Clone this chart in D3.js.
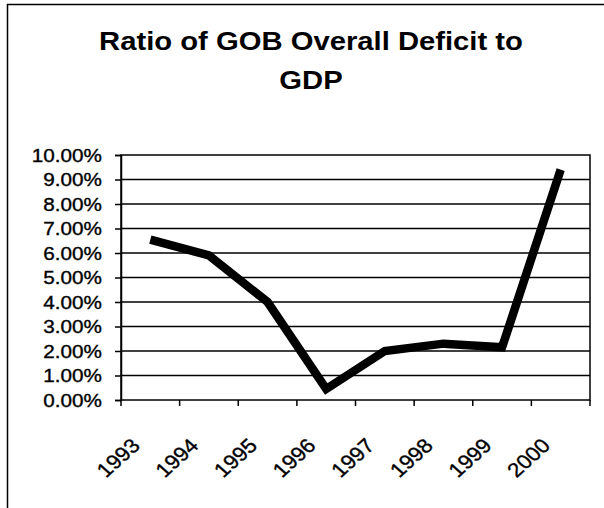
<!DOCTYPE html>
<html><head><meta charset="utf-8">
<script src="https://cdn.jsdelivr.net/npm/d3@7/dist/d3.min.js"></script>
<style>
html,body{margin:0;padding:0;background:#fff;}
svg{display:block;font-family:"Liberation Sans",Arial,sans-serif;}
</style></head>
<body>
<svg id="chart" width="604" height="508"></svg>
<script>
const titleLines = ["Ratio of GOB Overall Deficit to", "GDP"];
const years = ["1993","1994","1995","1996","1997","1998","1999","2000"];
const deficitRatio = [0.0655, 0.059, 0.040, 0.0045, 0.020, 0.023, 0.0215, 0.094];
const yTicks = [0,0.01,0.02,0.03,0.04,0.05,0.06,0.07,0.08,0.09,0.10];

const svg = d3.select("#chart");
const W = 604, H = 508;
const m = {left:121, right:590, top:155, bottom:400};
const sx = 1.15; // horizontal stretch of the scanned text

// outer frame (top and left visible)
svg.append("line").attr("x1",7).attr("x2",604).attr("y1",4.5).attr("y2",4.5)
  .attr("stroke","#000").attr("stroke-width",1.5);
svg.append("line").attr("x1",7.5).attr("x2",7.5).attr("y1",4).attr("y2",H)
  .attr("stroke","#000").attr("stroke-width",1.5);

// title
titleLines.forEach((t,i)=>{
  svg.append("text")
    .attr("transform",`translate(311,${50+i*39}) scale(1.17,1)`)
    .attr("text-anchor","middle")
    .attr("font-size",25).attr("font-weight","bold")
    .text(t);
});

const x = d3.scaleBand().domain(years).range([m.left,m.right]).padding(0);
const y = d3.scaleLinear().domain([0,0.10]).range([m.bottom,m.top]);

// gridlines
svg.append("g").selectAll("line").data(yTicks.slice(1,-1)).join("line")
  .attr("x1",m.left).attr("x2",m.right)
  .attr("y1",d=>y(d)).attr("y2",d=>y(d))
  .attr("stroke","#000").attr("stroke-width",1.5);

// plot border
svg.append("rect").attr("x",m.left).attr("y",m.top)
  .attr("width",m.right-m.left).attr("height",m.bottom-m.top)
  .attr("fill","none").attr("stroke","#000").attr("stroke-width",1.5);

// y axis
const yAxis = d3.axisLeft(y).tickValues(yTicks).tickFormat(d3.format(".2%")).tickSize(6).tickPadding(0);
const gy = svg.append("g").attr("transform",`translate(${m.left},0)`).call(yAxis);
gy.select(".domain").attr("stroke","#000").attr("stroke-width",1.5);
gy.selectAll(".tick line").attr("stroke","#000").attr("stroke-width",1.5);
gy.selectAll(".tick text").each(function(){
  const t = d3.select(this);
  t.attr("x",null).attr("dy",null)
   .attr("transform",`translate(-19,6) scale(${sx},1)`)
   .attr("font-size",18).attr("fill","#000")
   .attr("stroke","#000").attr("stroke-width",0.35)
   .attr("font-family","Liberation Sans, Arial, sans-serif");
});

// x axis: ticks between categories
const gx = svg.append("g");
const boundaries = years.map(d=>x(d)).concat([m.right]);
gx.selectAll("line").data(boundaries).join("line")
  .attr("x1",d=>d).attr("x2",d=>d).attr("y1",m.bottom).attr("y2",m.bottom+6)
  .attr("stroke","#000").attr("stroke-width",1.5);
gx.selectAll("text").data(years).join("text")
  .attr("transform",d=>`translate(${x(d)+x.bandwidth()/2-9},${m.bottom+47}) scale(1.12,1) rotate(-45)`)
  .attr("text-anchor","end")
  .attr("font-size",20).attr("fill","#000")
  .attr("stroke","#000").attr("stroke-width",0.35)
  .text(d=>d);

// the line
const line = d3.line().x((d,i)=>x(years[i])+x.bandwidth()/2).y(d=>y(d));
svg.append("path").datum(deficitRatio)
  .attr("d",line).attr("fill","none").attr("stroke","#000")
  .attr("stroke-width",8.5).attr("stroke-linejoin","miter");
</script>
</body></html>
